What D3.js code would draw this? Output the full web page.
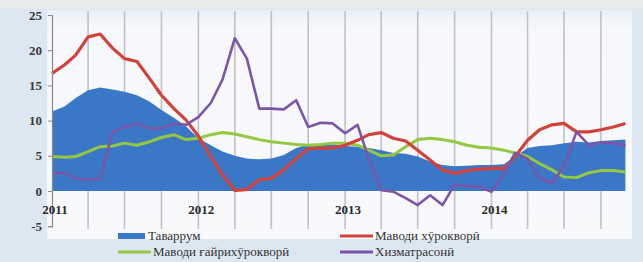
<!DOCTYPE html>
<html>
<head>
<meta charset="utf-8">
<script src="https://cdn.jsdelivr.net/npm/d3@7"></script>
<style>
  body { margin: 0; background: #dde7f1; }
  svg { display: block; }
</style>
</head>
<body>
<svg class="chart-svg" width="643" height="262"></svg>
<script>
// monthly data, Jan 2011 .. Dec 2014
const startMonth = new Date(2011, 0, 1);
const tavarrum = [
  11.3, 12.0, 13.2, 14.3, 14.7, 14.4, 14.1, 13.6, 12.7, 11.5, 10.4, 9.2,
  7.5, 6.5, 5.6, 5.0, 4.6, 4.5, 4.6, 5.1, 6.1, 6.6, 6.6, 6.6,
  6.4, 6.3, 6.1, 5.8, 5.4, 5.3, 4.9, 4.2, 3.7, 3.5, 3.6, 3.7,
  3.7, 3.8, 4.9, 6.1, 6.4, 6.5, 6.8, 7.0, 6.9, 7.1, 7.2, 7.3
];
const food = [
  16.7, 17.9, 19.3, 21.9, 22.3, 20.3, 18.8, 18.4, 16.0, 13.6, 11.7, 10.1,
  7.8, 4.9, 2.3, 0.1, 0.2, 1.6, 1.8, 3.0, 4.6, 6.0, 6.1, 6.1,
  6.5, 7.2, 8.0, 8.3, 7.5, 7.1, 5.8, 4.4, 3.0, 2.5, 2.9, 3.1,
  3.2, 3.2, 4.9, 7.2, 8.7, 9.4, 9.6, 8.4, 8.4, 8.7, 9.1, 9.6
];
const nonFood = [
  4.9, 4.8, 4.9, 5.6, 6.3, 6.4, 6.8, 6.5, 7.0, 7.6, 8.0, 7.3,
  7.5, 8.0, 8.3, 8.1, 7.7, 7.3, 7.0, 6.8, 6.6, 6.5, 6.6, 6.8,
  6.8, 6.5, 5.8, 5.0, 5.1, 6.3, 7.3, 7.5, 7.3, 7.0, 6.5, 6.2,
  6.1, 5.8, 5.4, 4.9, 3.9, 3.0, 2.0, 1.9, 2.6, 2.9, 2.9, 2.7
];
const services = [
  2.5, 2.6, 1.8, 1.6, 1.7, 8.4, 9.1, 9.6, 8.9, 8.9, 9.6, 9.4,
  10.5, 12.5, 15.8, 21.7, 18.8, 11.7, 11.7, 11.6, 12.9, 9.1, 9.7, 9.6,
  8.2, 9.4, 4.6, 0.1, -0.1, -1.0, -2.0, -0.6, -2.0, 0.9, 0.7, 0.6,
  -0.1, 2.5, 5.4, 4.6, 1.8, 1.1, 3.5, 8.4, 6.5, 6.9, 6.8, 6.5
];
const yTicks = [-5, 0, 5, 10, 15, 20, 25];
const yearLabels = ["2011", "2012", "2013", "2014"];
const legendNames = ["Таваррум", "Маводи хӯрокворӣ", "Маводи ғайрихӯрокворӣ", "Хизматрасонӣ"];

const colors = { area: "#3a78c7", food: "#d3413b", nonFood: "#94c840", services: "#7b56a6" };

const svg = d3.select(".chart-svg");

const dates = tavarrum.map((d, i) => d3.timeMonth.offset(startMonth, i));

const xScale = d3.scaleTime()
  .domain([startMonth, dates[dates.length - 1]])
  .range([52, 625.4]);
const yScale = d3.scaleLinear()
  .domain([-5, 25])
  .range([226.2, 15]);

// backgrounds
svg.append("rect").attr("x", 0).attr("y", 0).attr("width", 643).attr("height", 9).attr("fill", "#e7eaeb");
const grad = svg.append("defs").append("linearGradient")
  .attr("id", "pbg").attr("x1", 0).attr("y1", 0).attr("x2", 0).attr("y2", 1);
grad.append("stop").attr("offset", "0%").attr("stop-color", "#e9eff6");
grad.append("stop").attr("offset", "8%").attr("stop-color", "#f6f8fb");
grad.append("stop").attr("offset", "100%").attr("stop-color", "#f8f9fb");
svg.append("rect").attr("x", 47).attr("y", 10).attr("width", 585).attr("height", 229).attr("fill", "url(#pbg)");

// vertical gridlines every quarter
const quarters = d3.timeMonth.every(3).range(d3.timeMonth.offset(startMonth, 3), dates[dates.length - 1]);
svg.append("g").selectAll("line")
  .data(quarters)
  .enter()
  .append("line")
  .attr("x1", d => xScale(d)).attr("x2", d => xScale(d))
  .attr("y1", 11).attr("y2", 229)
  .attr("stroke", "#bfc1c4").attr("stroke-width", 1.6);

// area
const area = d3.area()
  .x((d, i) => xScale(dates[i]))
  .y0(yScale(0))
  .y1(d => yScale(d));
svg.append("path").datum(tavarrum)
  .attr("d", area)
  .attr("fill", colors.area);

// lines
const line = d3.line()
  .x((d, i) => xScale(dates[i]))
  .y(d => yScale(d));
[[nonFood, colors.nonFood, 3], [food, colors.food, 3.2], [services, colors.services, 2.6]].forEach(s => {
  svg.append("path").datum(s[0])
    .attr("d", line)
    .attr("fill", "none")
    .attr("stroke", s[1])
    .attr("stroke-width", s[2])
    .attr("stroke-linejoin", "round");
});

// y axis
const yAxis = d3.axisLeft(yScale).tickValues(yTicks).tickFormat(d => String(d)).tickSize(4).tickPadding(6);
const gy = svg.append("g")
  .attr("transform", "translate(52,0)")
  .call(yAxis);
gy.select(".domain").attr("stroke", "#8a8a8a").attr("stroke-width", 1.2);
gy.selectAll(".tick line").attr("stroke", "#8a8a8a");
gy.selectAll("text")
  .attr("font-family", "Liberation Serif, serif")
  .attr("font-weight", "bold")
  .attr("font-size", 13)
  .attr("fill", "#3a3a3a");

// year labels
svg.append("g").selectAll("text")
  .data(yearLabels)
  .enter()
  .append("text")
  .attr("x", d => xScale(new Date(+d, 0, 1)) + 3)
  .attr("y", 214)
  .attr("text-anchor", "middle")
  .attr("font-family", "Liberation Serif, serif")
  .attr("font-weight", "bold")
  .attr("font-size", 13)
  .attr("fill", "#2a2a2a")
  .text(d => d);

// legend
const legendItems = [
  { name: legendNames[0], color: colors.area, type: "rect", x: 118, y: 236 },
  { name: legendNames[1], color: colors.food, type: "line", x: 340, y: 236 },
  { name: legendNames[2], color: colors.nonFood, type: "line", x: 118, y: 252 },
  { name: legendNames[3], color: colors.services, type: "line", x: 340, y: 252 }
];
const lg = svg.append("g").selectAll("g")
  .data(legendItems)
  .enter()
  .append("g")
  .attr("transform", d => "translate(" + d.x + "," + d.y + ")");
lg.filter(d => d.type === "rect").append("rect")
  .attr("x", 0).attr("y", -3).attr("width", 27).attr("height", 6)
  .attr("fill", d => d.color);
lg.filter(d => d.type === "line").append("line")
  .attr("x1", 0).attr("x2", 33).attr("y1", 0).attr("y2", 0)
  .attr("stroke", d => d.color).attr("stroke-width", 3);
lg.append("text")
  .attr("x", d => d.type === "rect" ? 30 : 35)
  .attr("y", 4)
  .attr("font-family", "Liberation Serif, serif")
  .attr("font-size", 13)
  .attr("fill", "#333")
  .text(d => d.name);
</script>
</body>
</html>
